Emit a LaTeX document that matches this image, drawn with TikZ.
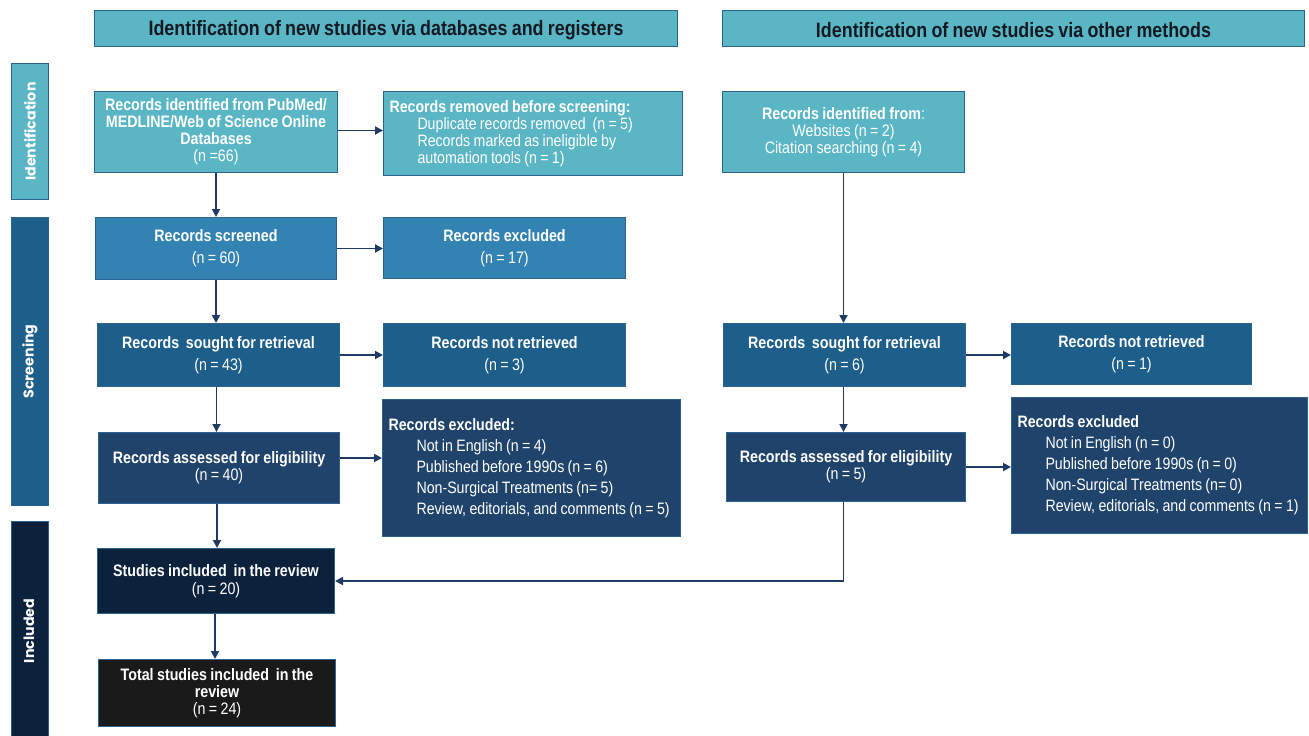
\documentclass[tikz,border=0pt]{standalone}
\usepackage{fontspec}
\setmainfont{Liberation Sans}[FakeStretch=0.86, WordSpace=0.85]
\newfontfamily\sidefont{Poppins}
\usetikzlibrary{arrows.meta}
\definecolor{cTeal}{HTML}{5AB5C5}
\definecolor{cMid}{HTML}{3282B2}
\definecolor{cSought}{HTML}{1D5E8B}
\definecolor{cAssess}{HTML}{1F436A}
\definecolor{cIncl}{HTML}{0C213C}
\definecolor{cTotal}{HTML}{1A1A1A}
\definecolor{cLine}{HTML}{1F3B63}
\definecolor{cBorder}{HTML}{2B6392}
\definecolor{cHead}{HTML}{141a24}
\newcommand\bx[8][]{\node[box, #1, fill=#7, minimum width={#5-#3}, minimum height={#6-#4}] (#2) at (#3,#4) {#8};}
\newcommand\lbx[8][]{\node[box, #1, fill=#7, minimum width={#5-#3}, minimum height={#6-#4}, text width={#5-#3-12}, align=flush left, inner xsep=6pt] (#2) at (#3,#4) {#8};}
\newcommand\ind{\hspace*{28pt}}
\begin{document}
\begin{tikzpicture}[x=1pt,y=-1pt,
  box/.style={draw=cBorder, line width=1pt, inner sep=0pt, anchor=north west, text=white, align=center, font=\fontsize{16.6}{17}\selectfont},
  head/.style={box, fill=cTeal, text=cHead, font=\fontsize{20.8}{22}\selectfont\bfseries},
  side/.style={box, text=white, font=\sidefont\fontsize{14.2}{15}\selectfont\bfseries},
  wide/.style={font=\fontsize{16.6}{22}\selectfont},
  incl/.style={font=\fontsize{16.6}{18}\selectfont},
  list/.style={font=\fontsize{16.5}{21}\selectfont},
  slist/.style={font=\fontsize{16.5}{17}\selectfont},
  arr/.style={draw=cLine, line width=1.8pt, -{Triangle[length=8pt,width=8pt]}}]
\useasboundingbox (0,0) rectangle (1309,736);
% headers
\bx{h1}{94}{10}{677}{46}{cTeal}{}
\node[head, draw=none, fill=none, anchor=center] (h1t) at ([yshift=-1.5pt]h1.center) {Identification of new studies via databases and registers};
\bx{h2}{722}{10}{1304}{46}{cTeal}{}
\node[head, draw=none, fill=none, anchor=center] (h2t) at ([yshift=-1.5pt]h2.center) {Identification of new studies via other methods};
% side labels
\bx{s1}{11}{63}{48}{199}{cTeal}{}
\node[side, draw=none, fill=none, anchor=center, rotate=90] (s1t) at (s1.center) {Identification};
\bx{s2}{11}{217}{48}{505}{cSought}{}
\node[side, draw=none, fill=none, anchor=center, rotate=90] (s2t) at (s2.center) {Screening};
\bx{s3}{11}{521}{48}{740}{cIncl}{}
\node[side, draw=none, fill=none, anchor=center, rotate=90] (s3t) at (29,631) {Included};
% identification
\bx{b1}{94}{91}{337}{172}{cTeal}{\textbf{Records identified from PubMed/}\\\textbf{MEDLINE/Web of Science Online}\\\textbf{Databases}\\(n =66)}
\lbx[slist]{b2}{383}{91}{682}{175}{cTeal}{\textbf{Records removed before screening:}\\\ind Duplicate records removed~ (n = 5)\\\ind Records marked as ineligible by\\\ind automation tools (n = 1)}
\bx{b3}{722}{91}{964}{172}{cTeal}{\textbf{Records identified from}:\\Websites (n = 2)\\Citation searching (n = 4)}
% screening left
\bx[wide]{scr}{95}{217}{336}{279}{cMid}{\textbf{Records screened}\\(n = 60)}
\bx[wide]{exc}{383}{217}{625}{278}{cMid}{\textbf{Records excluded}\\(n = 17)}
\bx[wide]{sou}{97}{323}{339}{386}{cSought}{\textbf{Records~ sought for retrieval}\\(n = 43)}
\bx[wide]{nr}{383}{323}{625}{386}{cSought}{\textbf{Records not retrieved}\\(n = 3)}
\bx{ass}{98}{432}{339}{503}{cAssess}{\textbf{Records assessed for eligibility}\\(n = 40)}
\lbx[list]{ex3}{382}{399}{680}{536}{cAssess}{\textbf{Records excluded:}\\\ind Not in English (n = 4)\\\ind Published before 1990s (n = 6)\\\ind Non-Surgical Treatments (n= 5)\\\ind Review, editorials, and comments (n = 5)}
% screening right
\bx[wide]{sou2}{723}{323}{965}{386}{cSought}{\textbf{Records~ sought for retrieval}\\(n = 6)}
\bx[wide]{nr2}{1011}{323}{1251}{384}{cSought}{\textbf{Records not retrieved}\\(n = 1)}
\bx{ass2}{726}{432}{965}{501}{cAssess}{\textbf{Records assessed for eligibility}\\(n = 5)}
\lbx[list]{ex4}{1011}{397}{1307}{533}{cAssess}{\textbf{Records excluded}\\\ind Not in English (n = 0)\\\ind Published before 1990s (n = 0)\\\ind Non-Surgical Treatments (n= 0)\\\ind Review, editorials, and comments (n = 1)}
% included
\bx[incl]{inc}{97}{548}{334}{613}{cIncl}{\textbf{Studies included~ in the review}\\(n = 20)}
\bx{tot}{98}{659}{335}{726}{cTotal}{\textbf{Total studies included~ in the}\\\textbf{review}\\(n = 24)}
% arrows
\draw[arr] ([yshift=1.5pt]b1.east) -- ([yshift=1.5pt]b1.east -| b2.west);
\draw[arr] (b1.south) -- (b1.south |- scr.north);
\draw[arr] (scr.east) -- (scr.east -| exc.west);
\draw[arr] (scr.south) -- (scr.south |- sou.north);
\draw[arr] (sou.east) -- (sou.east -| nr.west);
\draw[arr] ([xshift=-2pt]sou.south) -- ([xshift=-2pt]sou.south |- ass.north);
\draw[arr] ([yshift=10pt]ass.east) -- ([yshift=10pt]ass.east -| ex3.west);
\draw[arr] ([xshift=-2pt]ass.south) -- ([xshift=-2pt]ass.south |- inc.north);
\draw[arr] ([xshift=-1pt]inc.south) -- ([xshift=-1pt]inc.south |- tot.north);
\draw[arr] (b3.south) -- (b3.south |- sou2.north);
\draw[arr] (sou2.east) -- (sou2.east -| nr2.west);
\draw[arr] (b3.south |- sou2.south) -- (b3.south |- ass2.north);
\draw[arr] (ass2.east) -- (ass2.east -| ex4.west);
\draw[arr] (b3.south |- ass2.south) |- (inc.east);
\end{tikzpicture}
\end{document}
